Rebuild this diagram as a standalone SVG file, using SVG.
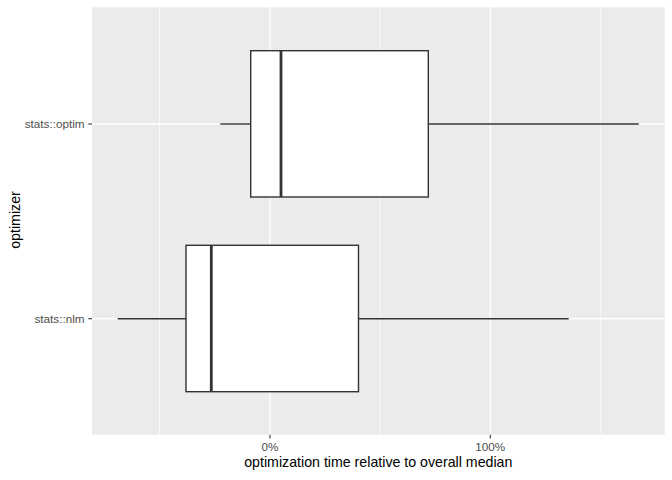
<svg xmlns="http://www.w3.org/2000/svg" width="672" height="480" viewBox="0 0 672 480">
<style>
.minor{stroke:#FFFFFF;stroke-width:0.7;fill:none}
.major{stroke:#FFFFFF;stroke-width:1.4;fill:none}
.tick{stroke:#333333;stroke-width:1.1;fill:none}
.box{fill:#FFFFFF;stroke:#333333;stroke-width:1.4}
.whisk{stroke:#333333;stroke-width:1.4;fill:none}
.med{stroke:#333333;stroke-width:2.8;fill:none}
.ticklab{font-family:"Liberation Sans",Arial,sans-serif;font-size:11.7px;fill:#4D4D4D}
.title{font-family:"Liberation Sans",Arial,sans-serif;font-size:14.2px;fill:#000000}
</style>
<rect x="0" y="0" width="672" height="480" fill="#FFFFFF"/>
<g id="panel">
<rect x="92" y="7.3" width="572.7" height="427.4" fill="#EBEBEB"/>
<line class="minor" x1="159.5" y1="7.3" x2="159.5" y2="434.7"/>
<line class="minor" x1="380.2" y1="7.3" x2="380.2" y2="434.7"/>
<line class="minor" x1="600.7" y1="7.3" x2="600.7" y2="434.7"/>
<line class="major" x1="270" y1="7.3" x2="270" y2="434.7"/>
<line class="major" x1="490.3" y1="7.3" x2="490.3" y2="434.7"/>
<line class="major" x1="92" y1="124" x2="664.7" y2="124"/>
<line class="major" x1="92" y1="318.7" x2="664.7" y2="318.7"/>
</g>
<g id="connectors">
<line class="whisk" x1="220.3" y1="124" x2="250.7" y2="124"/>
<line class="whisk" x1="428.3" y1="124" x2="638.7" y2="124"/>
<line class="whisk" x1="117.7" y1="318.7" x2="186" y2="318.7"/>
<line class="whisk" x1="358.5" y1="318.7" x2="568.7" y2="318.7"/>
</g>
<g id="box-optim">
<rect class="box" x="250.7" y="50.7" width="177.6" height="146.3"/>
<line class="med" x1="281" y1="50.7" x2="281" y2="197"/>
</g>
<g id="box-nlm">
<rect class="box" x="186" y="245.3" width="172.5" height="146.4"/>
<line class="med" x1="211.3" y1="245.3" x2="211.3" y2="391.7"/>
</g>
<g id="axes">
<line class="tick" x1="88.3" y1="124" x2="92" y2="124"/>
<line class="tick" x1="88.3" y1="318.7" x2="92" y2="318.7"/>
<line class="tick" x1="270" y1="434.7" x2="270" y2="438.4"/>
<line class="tick" x1="490.3" y1="434.7" x2="490.3" y2="438.4"/>
<text class="ticklab" x="84.5" y="128.2" text-anchor="end">stats::optim</text>
<text class="ticklab" x="84.5" y="322.9" text-anchor="end">stats::nlm</text>
<text class="ticklab" x="270" y="450.6" text-anchor="middle">0%</text>
<text class="ticklab" x="490.3" y="450.6" text-anchor="middle">100%</text>
<text class="title" x="378.3" y="467.2" text-anchor="middle">optimization time relative to overall median</text>
<text class="title" transform="translate(19.5,220) rotate(-90)" text-anchor="middle">optimizer</text>
</g>
</svg>
